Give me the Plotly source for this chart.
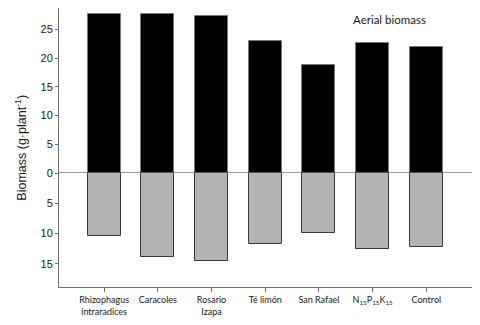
import plotly.graph_objects as go

categories = ["Rhizophagus<br>intraradices", "Caracoles", "Rosario<br>Izapa", "Té limón",
              "San Rafael", "N<sub>15</sub>P<sub>15</sub>K<sub>15</sub>", "Control"]
aerial = [27.6, 27.7, 27.3, 22.9, 18.8, 22.6, 21.9]
root = [10.4, 13.9, 14.5, 11.8, 9.9, 12.6, 12.2]
upper_ticks = [0, 5, 10, 15, 20, 25]
lower_ticks = [5, 10, 15]

x_idx = list(range(len(categories)))

fig = go.Figure()
fig.add_trace(go.Bar(
    x=x_idx, y=aerial, xaxis="x", yaxis="y",
    marker=dict(color="#000000", line=dict(color="#777777", width=1)),
    width=0.615, showlegend=False,
))
fig.add_trace(go.Bar(
    x=x_idx, y=[-v for v in root], xaxis="x", yaxis="y2",
    marker=dict(color="#b3b3b3", line=dict(color="#3a3a3a", width=1)),
    width=0.615, showlegend=False,
))

zero_frac = 0.4086
axis_col = "#707070"
tick_font = dict(family="Liberation Sans, Arial, sans-serif", size=11, color="#1a1a1a")

# page body has an 8px default margin, so the figure is sized/offset accordingly
fig.update_layout(
    width=472, height=317,
    margin=dict(l=51, r=8, t=0, b=38, autoexpand=False),
    paper_bgcolor="white", plot_bgcolor="white",
    bargap=0,
    xaxis=dict(
        range=[-0.84, 6.85], anchor="y2",
        tickmode="array", tickvals=x_idx, ticktext=categories,
        showline=True, linecolor=axis_col, linewidth=1,
        ticks="outside", ticklen=4, tickcolor=axis_col,
        showgrid=False, zeroline=False,
        tickfont=dict(family="Lato, Open Sans, sans-serif", size=9, color="#1a1a1a"),
    ),
    yaxis=dict(
        domain=[zero_frac, 1], range=[0, 28.7],
        tickmode="array", tickvals=upper_ticks, ticktext=[str(t) for t in upper_ticks],
        showline=True, linecolor=axis_col, linewidth=1,
        ticks="outside", ticklen=3, tickcolor=axis_col,
        showgrid=False, zeroline=False, tickfont=tick_font,
    ),
    yaxis2=dict(
        domain=[0, zero_frac], range=[-18.84, 0],
        tickmode="array", tickvals=[-t for t in lower_ticks], ticktext=[str(t) for t in lower_ticks],
        showline=True, linecolor=axis_col, linewidth=1,
        ticks="outside", ticklen=3, tickcolor=axis_col,
        showgrid=False, zeroline=False, tickfont=tick_font,
    ),
    shapes=[dict(type="line", xref="paper", yref="y", x0=0, x1=1, y0=0, y1=0,
                 line=dict(color="#333333", width=1))],
    annotations=[
        dict(text="Biomass (g·plant<sup>-1</sup>)", textangle=-90, xref="paper", yref="paper",
             x=-0.094, y=0.5, showarrow=False, xanchor="center", yanchor="middle",
             font=dict(family="Liberation Sans, Arial, sans-serif", size=12.5, color="#1a1a1a")),
        dict(text="Aerial biomass", xref="paper", yref="paper", x=(389 - 59) / 413, y=(287 - 19) / 279,
             showarrow=False, xanchor="center", yanchor="middle",
             font=dict(family="Lato, Open Sans, sans-serif", size=11.5, color="#1a1a1a")),
    ],
)

fig.write_html("out.html")
